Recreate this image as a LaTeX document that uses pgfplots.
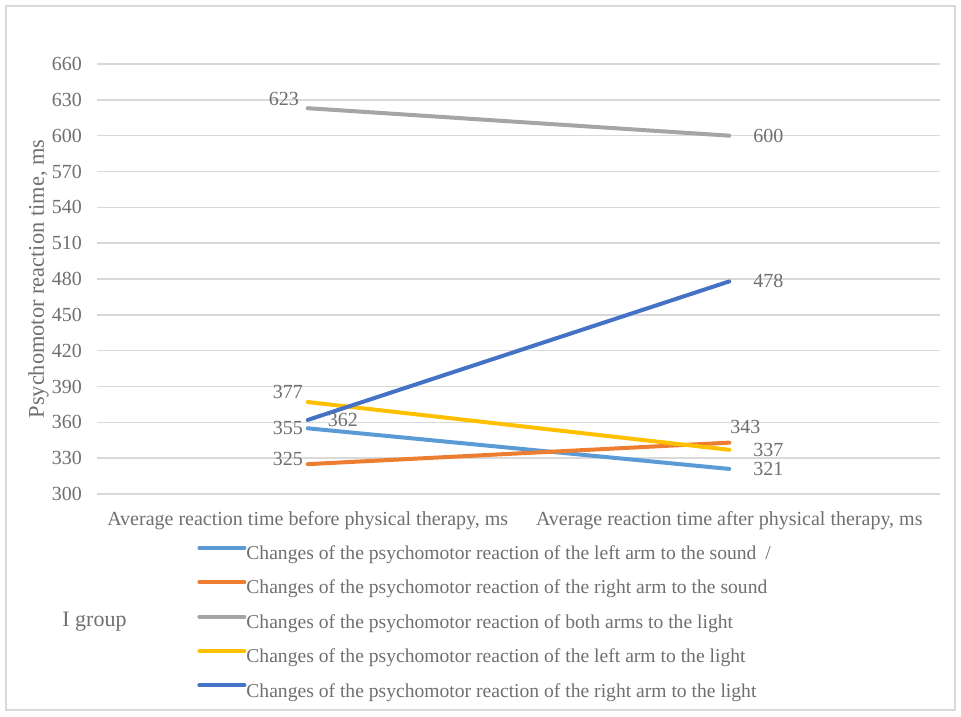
\documentclass[border=0pt]{standalone}
\usepackage{fontspec}
\setmainfont{Liberation Serif}
\usepackage{pgfplots}
\pgfplotsset{compat=1.18}
\definecolor{txt}{HTML}{6F6F6F}
\definecolor{gridgray}{HTML}{D9D9D9}
\definecolor{cA}{HTML}{5B9BD5}
\definecolor{cB}{HTML}{ED7D31}
\definecolor{cC}{HTML}{A5A5A5}
\definecolor{cD}{HTML}{FFC000}
\definecolor{cE}{HTML}{4472C4}
\tikzset{dl/.style={text=txt, inner sep=1.5pt}}
\begin{document}
\begin{tikzpicture}
\useasboundingbox (0,0) rectangle (480.5pt,-358pt);
\draw[color=gridgray, line width=0.75pt] (3pt,-3pt) rectangle (477.5pt,-355pt);
\begin{axis}[
  at={(48.5pt,-247pt)}, anchor=south west,
  scale only axis, width=421.5pt, height=215pt,
  xmin=-0.5, xmax=1.5, ymin=300, ymax=660,
  xtick={0,1},
  xticklabels={{Average reaction time before physical therapy, ms}, {Average reaction time after physical therapy, ms}},
  ytick={300,330,...,660},
  axis line style={draw=none}, major tick length=0pt,
  ymajorgrids, grid style={color=gridgray, line width=0.75pt},
  /pgf/number format/assume math mode=true,
  tick label style={text=txt},
  yticklabel style={xshift=-4pt},
  xticklabel style={yshift=-5pt},
  ylabel={Psychomotor reaction time, ms},
  ylabel style={at={(axis description cs:-0.0695,0.5)}, anchor=center, text=txt, font=\fontsize{11.2}{13}\selectfont},
  legend style={at={(axis description cs:0.1186,-0.1186)}, anchor=north west,
    draw=none, fill=none, inner sep=0pt, row sep=8.2pt, column sep=0pt,
    font=\fontsize{9.8}{12}\selectfont,
    nodes={inner sep=0pt, text height=7pt, text depth=2pt, text=txt},
    cells={anchor=west}},
  legend image code/.code={\draw[#1] (0pt,3.3pt) -- (22.5pt,3.3pt);},
  every axis plot/.append style={line width=2pt, line cap=round},
  clip=false,
]
\addplot[color=cA] coordinates {(0,355) (1,321)}
  node[dl, pos=0, anchor=east] {355}
  node[dl, pos=1, anchor=west, xshift=9.5pt] {321};
\addlegendentry{Changes of the psychomotor reaction of the left arm to the sound\hspace{0.45em}/}
\addplot[color=cB] coordinates {(0,325) (1,343)}
  node[dl, pos=0, anchor=east, yshift=2.5pt] {325}
  node[dl, pos=1, anchor=center, xshift=8pt, yshift=7.8pt] {343};
\addlegendentry{Changes of the psychomotor reaction of the right arm to the sound}
\addplot[color=cC] coordinates {(0,623) (1,600)}
  node[dl, pos=0, anchor=east, xshift=-2pt, yshift=4.5pt] {623}
  node[dl, pos=1, anchor=west, xshift=9.5pt] {600};
\addlegendentry{Changes of the psychomotor reaction of both arms to the light}
\addplot[color=cD] coordinates {(0,377) (1,337)}
  node[dl, pos=0, anchor=east, yshift=5pt] {377}
  node[dl, pos=1, anchor=west, xshift=9.5pt] {337};
\addlegendentry{Changes of the psychomotor reaction of the left arm to the light}
\addplot[color=cE] coordinates {(0,362) (1,478)}
  node[dl, pos=0, anchor=west, xshift=7.5pt] {362}
  node[dl, pos=1, anchor=west, xshift=9.5pt] {478};
\addlegendentry{Changes of the psychomotor reaction of the right arm to the light}
\node[text=txt, anchor=west, inner sep=0pt, font=\fontsize{11}{13}\selectfont] at (axis description cs:-0.0415,-0.2977) {I group};
\end{axis}
\end{tikzpicture}
\end{document}
